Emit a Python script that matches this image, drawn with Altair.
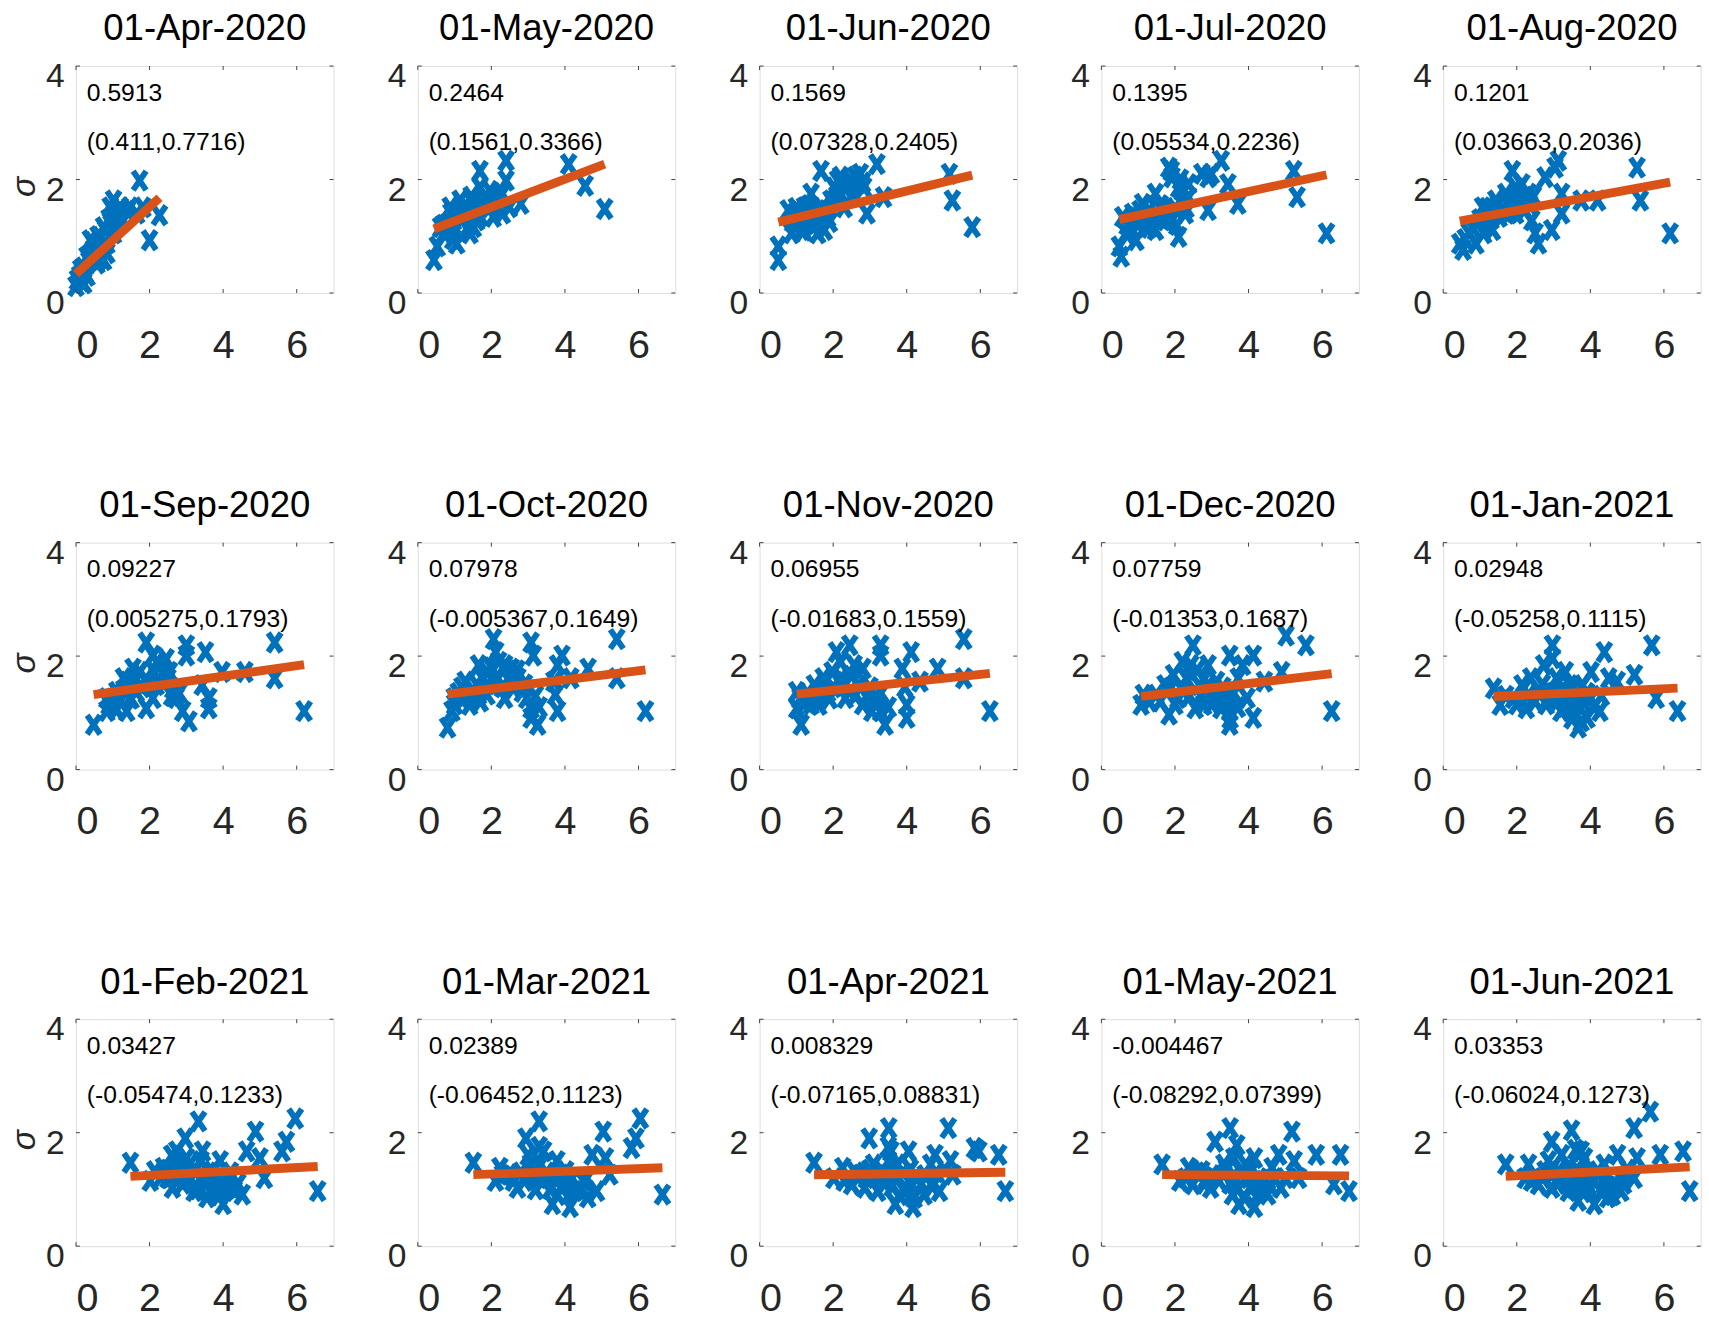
import altair as alt
import pandas as pd

FONT = "Liberation Sans"
BLUE = "#0072BD"
ORANGE = "#D95319"
AXIS_GREY = "#262626"
BOX_GREY = "#404040"

# Panel titles (first day of each month) and fitted-slope annotations
titles = ["01-Apr-2020", "01-May-2020", "01-Jun-2020", "01-Jul-2020", "01-Aug-2020",
          "01-Sep-2020", "01-Oct-2020", "01-Nov-2020", "01-Dec-2020", "01-Jan-2021",
          "01-Feb-2021", "01-Mar-2021", "01-Apr-2021", "01-May-2021", "01-Jun-2021"]
slope_labels = ["0.5913", "0.2464", "0.1569", "0.1395", "0.1201",
                "0.09227", "0.07978", "0.06955", "0.07759", "0.02948",
                "0.03427", "0.02389", "0.008329", "-0.004467", "0.03353"]
ci_labels = ["(0.411,0.7716)", "(0.1561,0.3366)", "(0.07328,0.2405)", "(0.05534,0.2236)",
             "(0.03663,0.2036)", "(0.005275,0.1793)", "(-0.005367,0.1649)",
             "(-0.01683,0.1559)", "(-0.01353,0.1687)", "(-0.05258,0.1115)",
             "(-0.05474,0.1233)", "(-0.06452,0.1123)", "(-0.07165,0.08831)",
             "(-0.08292,0.07399)", "(-0.06024,0.1273)"]
intercepts = [0.335, 1.02, 1.17, 1.23, 1.215, 1.276, 1.265, 1.26, 1.206, 1.248,
              1.18, 1.224, 1.247, 1.268, 1.173]

x_ticks = [0, 2, 4, 6]
y_ticks = [0, 2, 4]

# Scatter points per month
x_apr20 = [1.73, 2.27, 2.0, 1.65, 1.47, 1.02, 0.93, 1.1, 1.02, 0.84, 0.75, 0.57, 0.39, 0.48, 0.3,
           0.13, 0.04, 0.21, 0.0, 0.75, 1.29, 0.66, 1.82, 1.2, 0.84, 0.55, 0.62, 0.95, 0.25, 1.38,
           0.1, 0.2, 0.35, 0.45, 0.55, 0.6, 0.7, 0.8, 0.9, 1.0, 1.05, 1.15, 0.65, 0.3, 0.15]
y_apr20 = [1.98, 1.37, 0.93, 1.4, 1.51, 1.63, 1.51, 1.34, 1.05, 0.87, 0.58, 0.52, 0.93, 0.76, 0.64,
           0.41, 0.23, 0.17, 0.12, 1.16, 1.28, 0.99, 1.51, 1.51, 0.7, 0.85, 0.72, 1.2, 0.35, 1.45,
           0.3, 0.45, 0.55, 0.9, 0.7, 1.0, 0.8, 1.1, 1.3, 1.45, 1.2, 1.4, 0.6, 0.3, 0.2]

x_may20 = [2.4, 4.1, 4.55, 5.08, 2.8, 2.4, 1.69, 1.69, 1.96, 2.2, 2.3, 2.05, 2.49, 1.51, 1.33,
           1.15, 0.88, 0.97, 1.06, 1.42, 1.51, 0.71, 0.62, 0.53, 0.44, 0.8, 1.78, 1.96, 1.24, 1.6,
           0.7, 0.9, 1.0, 1.2, 1.3, 1.4, 1.55, 1.7, 1.85, 2.1, 2.3, 0.95, 1.1, 1.45]
y_may20 = [2.33, 2.27, 1.89, 1.48, 1.57, 1.98, 2.15, 1.86, 1.8, 1.69, 1.4, 1.34, 1.51, 1.57, 1.4,
           1.63, 1.51, 1.28, 0.87, 1.05, 1.16, 1.05, 1.16, 0.82, 0.58, 1.22, 1.63, 1.51, 1.34, 1.28,
           1.2, 1.4, 1.1, 1.3, 1.55, 1.2, 1.45, 1.35, 1.7, 1.55, 1.75, 0.95, 1.45, 1.7]

x_jun20 = [0.51, 0.51, 0.78, 0.87, 1.05, 1.22, 1.13, 1.4, 1.49, 1.58, 1.67, 1.76, 1.85, 1.94, 2.12,
           2.03, 2.21, 2.3, 2.48, 2.66, 2.74, 2.83, 2.92, 3.19, 3.37, 5.16, 5.24, 5.78, 0.96, 1.31,
           1.58, 1.76, 2.3, 2.57, 0.9, 1.0, 1.15, 1.25, 1.35, 1.45, 1.6, 1.7, 1.9, 2.1, 2.2, 2.4,
           2.6, 2.8, 1.2]
y_jun20 = [0.58, 0.82, 1.46, 1.05, 1.28, 1.51, 1.11, 1.75, 1.34, 1.05, 2.15, 1.11, 1.34, 1.63, 1.98,
           1.86, 1.75, 1.51, 1.98, 1.92, 2.1, 1.86, 1.4, 2.27, 1.69, 2.1, 1.63, 1.16, 1.4, 1.4,
           1.46, 1.4, 1.86, 1.75, 1.25, 1.5, 1.35, 1.2, 1.55, 1.2, 1.3, 1.5, 1.25, 1.7, 2.05, 1.9,
           2.05, 1.95, 1.1]

x_jul20 = [0.54, 0.49, 0.58, 0.67, 0.85, 0.94, 1.12, 1.21, 1.39, 1.47, 1.47, 1.65, 1.83, 1.92, 1.92,
           2.1, 2.1, 2.19, 2.37, 2.28, 2.73, 2.9, 2.99, 2.9, 3.26, 3.44, 3.71, 5.23, 5.32, 6.12,
           1.74, 1.3, 2.37, 0.94, 0.7, 0.8, 1.0, 1.05, 1.2, 1.3, 1.55, 1.6, 1.8, 2.0, 2.2, 2.15,
           1.9, 2.05, 2.3]
y_jul20 = [0.64, 0.82, 1.34, 1.05, 1.4, 0.93, 1.57, 1.16, 1.28, 1.75, 1.11, 1.46, 2.21, 2.04, 1.28,
           1.86, 0.99, 1.63, 1.92, 1.4, 2.1, 2.04, 2.1, 1.46, 2.33, 1.92, 1.57, 2.15, 1.69, 1.05,
           1.28, 1.46, 1.69, 1.34, 1.2, 1.15, 1.2, 1.45, 1.35, 1.15, 1.35, 1.55, 1.4, 1.5, 1.8, 2.0,
           2.15, 1.2, 1.5]

x_aug20 = [0.45, 0.54, 0.71, 0.89, 1.07, 1.16, 1.34, 1.43, 1.52, 1.7, 1.79, 1.88, 1.97, 1.97, 2.14,
           2.23, 2.32, 2.41, 2.5, 2.59, 2.77, 2.95, 3.04, 3.13, 3.22, 3.22, 3.75, 4.2, 5.27, 5.36,
           6.17, 1.25, 2.06, 0.6, 0.8, 1.0, 1.2, 1.3, 1.5, 1.6, 1.75, 1.85, 2.0, 2.2, 2.35, 2.45,
           1.1]
y_aug20 = [0.87, 0.76, 1.05, 0.87, 1.51, 1.28, 1.11, 1.63, 1.34, 1.75, 1.4, 2.15, 1.86, 1.4, 1.92,
           1.63, 1.75, 1.28, 1.05, 0.87, 2.04, 1.11, 2.21, 2.33, 1.75, 1.4, 1.63, 1.63, 2.21, 1.63,
           1.05, 1.4, 1.63, 0.95, 1.15, 1.3, 1.5, 1.3, 1.55, 1.45, 1.6, 1.5, 1.75, 1.45, 1.55, 1.7,
           1.05]

x_sep20 = [0.48, 0.84, 0.84, 1.02, 1.11, 1.29, 1.38, 1.55, 1.64, 1.73, 1.91, 1.91, 2.0, 2.09, 2.09,
           2.27, 2.45, 2.54, 2.63, 2.72, 2.9, 3.0, 3.0, 3.07, 3.43, 3.52, 3.61, 3.61, 3.97, 4.59,
           5.4, 5.4, 6.2, 1.47, 2.18, 0.9, 1.0, 1.2, 1.3, 1.4, 1.5, 1.6, 1.8, 1.9, 2.1, 2.2, 2.35,
           2.5, 2.6, 2.8, 1.1]
y_sep20 = [0.79, 1.03, 1.26, 1.14, 1.37, 1.61, 1.03, 1.78, 1.37, 1.72, 2.24, 1.08, 1.49, 2.01, 1.26,
           1.84, 1.95, 1.72, 1.43, 1.26, 1.03, 2.19, 2.01, 0.85, 1.49, 2.07, 1.08, 1.26, 1.72, 1.72,
           2.24, 1.61, 1.03, 1.26, 1.49, 1.15, 1.25, 1.2, 1.4, 1.55, 1.25, 1.55, 1.45, 1.6, 1.75,
           1.9, 1.7, 1.6, 1.3, 1.35, 1.05]

x_oct20 = [0.81, 0.93, 0.99, 1.29, 1.41, 1.53, 1.65, 1.76, 1.88, 1.88, 2.06, 2.12, 2.18, 2.36, 2.36,
           2.54, 2.6, 2.84, 2.96, 3.08, 3.14, 3.08, 3.26, 3.08, 3.74, 3.8, 3.92, 3.8, 4.16, 4.63,
           5.41, 5.41, 6.19, 1.65, 1.17, 2.72, 1.0, 1.1, 1.2, 1.4, 1.6, 1.7, 1.9, 2.0, 2.2, 2.3,
           2.45, 2.7, 2.9, 3.2, 3.3, 3.7]
y_oct20 = [0.74, 1.03, 1.26, 1.55, 1.14, 1.37, 1.84, 1.61, 1.72, 1.32, 2.3, 2.07, 1.61, 1.84, 1.26,
           1.78, 1.43, 1.37, 1.26, 2.24, 2.01, 1.08, 0.79, 0.91, 1.32, 1.03, 2.01, 1.84, 1.61, 1.78,
           2.3, 1.61, 1.03, 1.32, 1.26, 1.61, 1.15, 1.35, 1.45, 1.3, 1.5, 1.2, 1.5, 1.8, 1.9, 1.45,
           1.6, 1.75, 1.5, 1.3, 1.1, 1.55]

x_nov20 = [1.01, 1.13, 1.01, 1.25, 1.49, 1.61, 1.85, 1.97, 2.09, 2.21, 2.33, 2.45, 2.57, 2.69, 2.81,
           2.93, 3.05, 3.17, 3.29, 3.29, 3.41, 3.29, 3.88, 4.0, 4.12, 4.0, 4.36, 4.84, 5.55, 5.55,
           6.26, 1.73, 2.45, 1.1, 1.3, 1.4, 1.6, 1.8, 1.9, 2.0, 2.2, 2.3, 2.5, 2.6, 2.8, 3.0, 3.1,
           3.3, 3.5, 3.95]
y_nov20 = [1.37, 0.79, 1.08, 1.2, 1.49, 1.14, 1.37, 1.72, 2.07, 1.61, 1.26, 2.19, 1.84, 1.49, 1.78,
           1.32, 1.03, 1.26, 2.19, 2.01, 0.79, 1.03, 1.78, 1.14, 2.07, 0.91, 1.55, 1.78, 2.3, 1.61,
           1.03, 1.61, 1.37, 1.25, 1.35, 1.15, 1.3, 1.55, 1.25, 1.45, 1.9, 1.55, 1.65, 1.3, 1.15,
           1.45, 1.2, 1.35, 1.1, 1.45]

x_dec20 = [1.08, 1.14, 1.49, 1.73, 1.84, 1.96, 2.08, 2.2, 2.31, 2.43, 2.49, 2.55, 2.66, 2.78, 2.9,
           3.01, 3.13, 3.25, 3.36, 3.49, 3.49, 3.49, 3.72, 3.84, 3.96, 4.13, 4.13, 4.43, 4.9, 5.02,
           5.56, 6.26, 2.9, 3.25, 1.3, 1.6, 1.9, 2.0, 2.2, 2.4, 2.6, 2.7, 2.8, 3.0, 3.1, 3.3, 3.4,
           3.6, 3.7, 3.5]
y_dec20 = [1.14, 1.32, 1.32, 1.49, 0.97, 1.67, 1.26, 1.9, 1.61, 1.84, 2.19, 1.08, 1.49, 1.14, 1.84,
           1.38, 1.55, 1.08, 1.32, 1.03, 0.79, 2.01, 1.61, 1.84, 1.26, 2.01, 0.91, 1.55, 1.72, 2.36,
           2.19, 1.03, 1.49, 1.38, 1.2, 1.2, 1.45, 1.15, 1.4, 1.3, 1.75, 1.3, 1.6, 1.15, 1.3, 1.45,
           1.2, 1.35, 1.1, 0.9]

x_jan21 = [1.37, 1.55, 1.91, 2.14, 2.26, 2.38, 2.61, 2.73, 2.97, 2.97, 3.08, 3.2, 3.2, 3.32, 3.44,
           3.56, 3.67, 3.67, 3.79, 3.91, 4.02, 4.26, 4.38, 4.5, 4.73, 5.2, 5.67, 5.79, 6.37, 2.85,
           4.02, 1.7, 2.0, 2.3, 2.5, 2.7, 2.8, 3.0, 3.1, 3.3, 3.4, 3.5, 3.6, 3.8, 3.9, 4.1, 4.3,
           3.5, 3.75]
y_jan21 = [1.43, 1.14, 1.26, 1.49, 1.08, 1.61, 1.38, 1.84, 2.19, 1.96, 1.61, 1.38, 1.03, 1.72, 1.49,
           1.03, 0.74, 1.26, 1.49, 0.91, 1.72, 1.03, 2.07, 1.61, 1.55, 1.67, 2.19, 1.26, 1.03, 1.26,
           1.26, 1.3, 1.15, 1.3, 1.2, 1.5, 1.15, 1.35, 1.2, 1.1, 1.3, 1.4, 1.15, 1.2, 1.35, 1.1,
           1.3, 0.9, 0.85]

x_feb21 = [1.48, 2.02, 2.14, 2.38, 2.62, 2.74, 2.85, 2.97, 3.09, 3.33, 3.21, 3.44, 3.56, 3.7, 3.8,
           3.92, 4.0, 4.17, 4.3, 4.52, 4.64, 4.88, 5.0, 5.12, 5.6, 5.72, 5.96, 6.57, 2.5, 3.44, 4.05,
           2.3, 2.5, 2.7, 2.8, 2.9, 3.0, 3.1, 3.2, 3.3, 3.4, 3.5, 3.6, 3.8, 3.9, 4.1, 4.2, 4.4,
           3.0, 2.6]
y_feb21 = [1.47, 1.15, 1.32, 1.38, 1.03, 1.67, 1.26, 1.9, 1.44, 2.2, 0.97, 1.67, 0.86, 1.32, 0.97,
           1.5, 0.74, 1.15, 0.97, 0.91, 1.67, 2.02, 1.55, 1.2, 1.67, 1.84, 2.25, 0.97, 1.2, 1.26, 1.09,
           1.2, 1.35, 1.2, 1.45, 1.1, 1.3, 1.15, 1.35, 1.0, 1.5, 1.1, 1.3, 1.15, 0.9, 1.0, 1.3, 1.1,
           1.55, 1.6]

x_mar21 = [1.51, 2.11, 2.23, 2.47, 2.71, 2.94, 3.06, 3.3, 3.42, 3.54, 3.66, 3.78, 3.9, 4.02, 4.14,
           4.26, 4.5, 4.62, 4.74, 4.86, 5.04, 5.1, 5.22, 5.81, 5.93, 6.05, 6.65, 3.18, 3.9,
           2.3, 2.6, 2.8, 2.9, 3.0, 3.1, 3.2, 3.3, 3.4, 3.5, 3.6, 3.7, 3.8, 4.0, 4.2, 4.4, 4.6, 3.3]
y_mar21 = [1.47, 1.15, 1.38, 1.26, 1.03, 1.9, 1.44, 2.2, 1.67, 1.2, 0.74, 1.5, 1.03, 1.32, 0.69,
           0.97, 1.15, 0.86, 1.61, 0.97, 2.02, 1.55, 1.26, 1.73, 1.9, 2.25, 0.91, 1.2, 1.26,
           1.25, 1.15, 1.3, 1.15, 1.6, 1.25, 1.0, 1.4, 1.15, 1.3, 1.0, 1.2, 0.9, 1.1, 1.2, 1.0, 1.2,
           1.75]

x_apr21 = [1.48, 2.02, 2.26, 2.5, 2.74, 2.86, 2.98, 3.1, 3.21, 3.33, 3.51, 3.57, 3.69, 3.75, 3.93,
           4.05, 4.17, 4.29, 4.47, 4.65, 4.77, 4.89, 5.13, 5.19, 5.25, 5.84, 5.96, 6.5, 6.68, 3.33,
           4.05, 2.3, 2.6, 2.9, 3.0, 3.2, 3.4, 3.5, 3.6, 3.7, 3.8, 3.9, 4.0, 4.1, 4.2, 4.4, 4.5,
           4.7, 4.8, 3.5]
y_apr21 = [1.47, 1.2, 1.38, 1.09, 1.26, 1.03, 1.9, 1.44, 0.97, 1.2, 2.08, 1.67, 0.74, 1.44, 0.97,
           1.67, 0.69, 1.2, 0.91, 1.44, 1.61, 0.97, 2.08, 1.5, 1.26, 1.73, 1.67, 1.61, 0.97, 1.32,
           1.15, 1.15, 1.3, 1.2, 1.35, 1.25, 1.1, 1.5, 1.05, 1.25, 0.9, 1.3, 1.0, 1.35, 0.85, 1.1,
           1.25, 1.05, 1.3, 1.75]

x_may21 = [1.65, 2.13, 2.37, 2.49, 2.85, 2.97, 3.09, 3.33, 3.5, 3.56, 3.68, 3.74, 3.92, 4.04, 4.16,
           4.16, 4.28, 4.52, 4.64, 4.82, 4.88, 5.18, 5.24, 5.36, 5.84, 6.32, 6.5, 6.73, 3.33, 2.73,
           2.3, 2.6, 2.8, 3.0, 3.2, 3.4, 3.5, 3.6, 3.7, 3.8, 3.9, 4.0, 4.1, 4.3, 4.4, 4.6, 4.7,
           5.0, 3.6]
y_may21 = [1.44, 1.15, 1.38, 1.09, 1.2, 1.03, 1.84, 1.44, 2.08, 0.91, 1.78, 0.74, 1.44, 1.03, 0.69,
           1.55, 1.2, 0.91, 1.38, 1.61, 1.03, 2.02, 1.5, 1.2, 1.61, 1.09, 1.61, 0.97, 1.26, 1.32,
           1.2, 1.3, 1.1, 1.25, 1.15, 1.35, 1.1, 1.25, 1.0, 1.3, 0.85, 1.2, 1.35, 0.95, 1.15, 1.05,
           1.2, 1.2, 1.55]

x_jun21 = [1.7, 2.23, 2.32, 2.59, 2.77, 2.86, 2.95, 2.95, 3.13, 3.22, 3.4, 3.49, 3.58, 3.67, 3.75,
           3.84, 3.93, 4.11, 4.2, 4.38, 4.47, 4.65, 4.74, 4.83, 5.19, 5.27, 5.19, 5.63, 5.9, 6.52,
           6.7, 3.84, 4.38, 2.4, 2.7, 2.9, 3.1, 3.3, 3.4, 3.5, 3.6, 3.7, 3.8, 3.9, 4.0, 4.1, 4.3,
           4.4, 4.5, 4.6, 4.9, 5.0, 3.6]
y_jun21 = [1.44, 1.2, 1.44, 1.09, 1.32, 1.5, 1.84, 1.03, 1.32, 1.61, 0.97, 2.04, 1.26, 0.8, 1.67,
           1.55, 1.09, 0.74, 1.32, 1.44, 0.86, 1.03, 1.61, 0.97, 2.08, 1.55, 1.2, 2.37, 1.61, 1.67,
           0.97, 1.26, 1.09, 1.15, 1.2, 1.3, 1.1, 1.2, 1.4, 1.15, 1.0, 1.3, 0.95, 1.2, 1.0, 1.15,
           0.95, 1.2, 1.05, 0.9, 1.1, 1.35, 1.7]

point_x = [x_apr20, x_may20, x_jun20, x_jul20, x_aug20, x_sep20, x_oct20, x_nov20, x_dec20,
           x_jan21, x_feb21, x_mar21, x_apr21, x_may21, x_jun21]
point_y = [y_apr20, y_may20, y_jun20, y_jul20, y_aug20, y_sep20, y_oct20, y_nov20, y_dec20,
           y_jan21, y_feb21, y_mar21, y_apr21, y_may21, y_jun21]

W, H = 261, 230
TICK_LEN = 4
# thick "x" marker, slightly taller than wide
X_MARK = "M-0.55,-0.8L0.55,0.8M-0.55,0.8L0.55,-0.8"

x_scale = alt.Scale(domain=[0, 7], nice=False, zero=False)
y_scale = alt.Scale(domain=[0, 4], nice=False, zero=False)


def panel(i):
    first_col = i % 5 == 0
    x_axis = alt.Axis(values=x_ticks, labelFontSize=40, labelPadding=33, labelFont=FONT,
                      labelColor=AXIS_GREY, ticks=False, domain=False, grid=False)
    y_kw = dict(values=y_ticks, labelFontSize=34, labelPadding=12, labelOffset=11,
                labelFont=FONT, labelColor=AXIS_GREY, ticks=False, domain=False, grid=False)
    if first_col:
        y_kw.update(title="σ", titleFont=FONT, titleFontStyle="italic",
                    titleFontWeight="normal", titleFontSize=34, titleColor=AXIS_GREY,
                    titleAngle=270, titleAlign="center", titleBaseline="middle",
                    titleX=-52, titleY=122)
        y_enc = alt.Y("y:Q", scale=y_scale, axis=alt.Axis(**y_kw))
    else:
        y_enc = alt.Y("y:Q", scale=y_scale, axis=alt.Axis(**y_kw), title=None)
    x_enc = alt.X("x:Q", scale=x_scale, axis=x_axis, title=None)

    pts = pd.DataFrame({"x": point_x[i], "y": point_y[i]})
    b = float(slope_labels[i])
    a = intercepts[i]
    lo, hi = min(point_x[i]), max(point_x[i])
    fit = pd.DataFrame({"x": [lo, hi], "y": [a + b * lo, a + b * hi]})

    points = alt.Chart(pts).mark_point(
        shape=X_MARK, size=576, filled=False, stroke=BLUE, strokeWidth=6, opacity=1
    ).encode(x=x_enc, y=y_enc)

    line = alt.Chart(fit).mark_line(color=ORANGE, strokeWidth=9).encode(x=x_enc, y=y_enc)

    xt = pd.DataFrame({"x": x_ticks})
    yt = pd.DataFrame({"y": y_ticks})
    tick_style = dict(color=BOX_GREY, strokeWidth=1)
    bottom_ticks = alt.Chart(xt).mark_rule(**tick_style).encode(
        x=x_enc, y=alt.value(H), y2=alt.value(H - TICK_LEN))
    top_ticks = alt.Chart(xt).mark_rule(**tick_style).encode(
        x=x_enc, y=alt.value(0), y2=alt.value(TICK_LEN))
    left_ticks = alt.Chart(yt).mark_rule(**tick_style).encode(
        y=y_enc, x=alt.value(0), x2=alt.value(TICK_LEN))
    right_ticks = alt.Chart(yt).mark_rule(**tick_style).encode(
        y=y_enc, x=alt.value(W), x2=alt.value(W - TICK_LEN))

    note_style = dict(font=FONT, fontSize=25, color="black", align="left", baseline="alphabetic")
    slope_txt = alt.Chart(pd.DataFrame({"t": [slope_labels[i]]})).mark_text(**note_style).encode(
        text="t:N", x=alt.value(11), y=alt.value(35))
    ci_txt = alt.Chart(pd.DataFrame({"t": [ci_labels[i]]})).mark_text(**note_style).encode(
        text="t:N", x=alt.value(11), y=alt.value(85))

    return alt.layer(
        points, line, bottom_ticks, top_ticks, left_ticks, right_ticks, slope_txt, ci_txt
    ).properties(
        width=W, height=H,
        title=alt.TitleParams(titles[i], font=FONT, fontSize=37, fontWeight="normal",
                              color="black", anchor="middle", baseline="alphabetic", offset=-17),
    )


chart = alt.ConcatChart(
    concat=[panel(i) for i in range(15)],
    columns=5,
    spacing=alt.RowColnumber(row=253, column=85.4),
    bounds="flush",
).properties(
    padding={"left": 7, "top": 1, "right": 0, "bottom": 0},
).configure_view(
    stroke=BOX_GREY, strokeWidth=1
).configure(background="white")

chart.save("out.html", embed_options={"renderer": "svg", "actions": False})
